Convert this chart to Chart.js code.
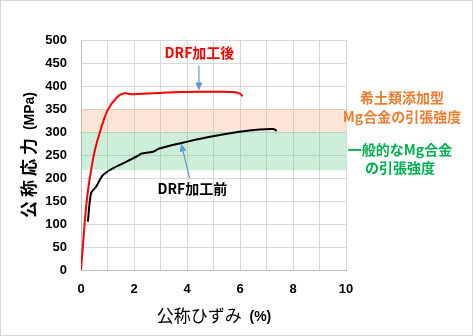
<!DOCTYPE html>
<html lang="ja">
<head>
    <meta charset="UTF-8">
    <title>公称応力-公称ひずみ曲線</title>
    <style>
        body { margin: 0; background: #fff; }
        #stressChart { display: block; }
    </style>
</head>
<body>
    <canvas id="stressChart" width="473" height="336"></canvas>

    <script src="https://cdn.jsdelivr.net/npm/chart.js"></script>
    <script>
        // DRF加工後 (strain %, stress MPa)
        const afterStrain = [0, 0.22, 0.47, 0.70, 1.01, 1.39, 1.64, 1.9, 2.08, 2.96, 3.8, 4.47, 5.2, 5.73, 5.98, 6.1];
        const afterStress = [0, 152, 246, 297, 348, 377, 384, 382, 382.5, 385, 387, 387.5, 387.5, 387, 384, 378];

        // DRF加工前
        const beforeStrain = [0.26, 0.38, 0.57, 0.82, 1.2, 1.7, 2.2, 2.27, 2.71, 2.96, 3.72, 4.72, 5.98, 6.74, 7.24, 7.39];
        const beforeStress = [105, 167, 181, 206, 221, 235, 250, 253, 257, 264, 275, 288, 300.5, 305.5, 306.5, 303];

        // 引張強度の範囲 [下限, 上限]
        const rareEarthBand = [300, 350];
        const commonBand = [217, 300];
        const bandStrain = [0, 10];

        const xTicks = [0, 2, 4, 6, 8, 10];

        const toPoints = (xs, ys) => xs.map((x, i) => ({ x: x, y: ys[i] }));
        const bandLine = (band) => bandStrain.map(x => ({ x: x, y: band[1] }));

        const labelFont = '"Noto Sans CJK JP", "Liberation Sans", sans-serif';
        const latinBold = 'bold 14px "Liberation Sans", sans-serif';

        // text, arrows and the outer frame
        const decorations = {
            id: 'decorations',
            afterDatasetsDraw(chart) {
                const ctx = chart.ctx;
                const xs = chart.scales.x, ys = chart.scales.y;
                const px = v => xs.getPixelForValue(v);
                const py = v => ys.getPixelForValue(v);

                ctx.save();

                // arrows pointing at the curves
                function arrow(x1, y1, x2, y2) {
                    const a = Math.atan2(y2 - y1, x2 - x1);
                    ctx.strokeStyle = '#5B9BD5';
                    ctx.fillStyle = '#5B9BD5';
                    ctx.lineWidth = 1.2;
                    ctx.beginPath();
                    ctx.moveTo(x1, y1);
                    ctx.lineTo(x2 - 6 * Math.cos(a), y2 - 6 * Math.sin(a));
                    ctx.stroke();
                    ctx.beginPath();
                    ctx.moveTo(x2, y2);
                    ctx.lineTo(x2 - 8 * Math.cos(a) + 3.5 * Math.sin(a), y2 - 8 * Math.sin(a) - 3.5 * Math.cos(a));
                    ctx.lineTo(x2 - 8 * Math.cos(a) - 3.5 * Math.sin(a), y2 - 8 * Math.sin(a) + 3.5 * Math.cos(a));
                    ctx.closePath();
                    ctx.fill();
                }
                arrow(px(4.45), py(444), px(4.45), py(390));
                arrow(px(4.1), py(200), px(3.78), py(275));

                ctx.textAlign = 'center';
                ctx.textBaseline = 'middle';

                ctx.font = 'bold 14px ' + labelFont;
                ctx.fillStyle = '#FF0000';
                ctx.fillText('DRF加工後', px(4.47), py(472));
                ctx.fillStyle = '#000000';
                ctx.fillText('DRF加工前', px(4.2), py(176));

                // band captions on the right
                ctx.font = 'bold 14px ' + labelFont;
                ctx.fillStyle = '#ED7D31';
                ctx.fillText('希土類添加型', 402, 98);
                ctx.fillText('Mg合金の引張強度', 402, 117);
                ctx.fillStyle = '#00B050';
                ctx.fillText('一般的なMg合金', 400, 150);
                ctx.fillText('の引張強度', 400, 168);

                // axis titles
                ctx.fillStyle = '#000000';
                ctx.textAlign = 'left';
                const xt1 = '公称ひずみ';
                ctx.font = '17px ' + labelFont;
                const w1 = ctx.measureText(xt1).width;
                ctx.font = latinBold;
                const w2 = ctx.measureText('  (%)').width;
                let sx = 214 - (w1 + w2) / 2;
                ctx.font = '17px ' + labelFont;
                ctx.fillText(xt1, sx, 316);
                ctx.font = latinBold;
                ctx.fillText('  (%)', sx + w1, 317);

                ctx.translate(29, 155);
                ctx.rotate(-Math.PI / 2);
                const yChars = ['公', '称', '応', '力'];
                const step = 21;
                ctx.font = latinBold;
                const yw2 = ctx.measureText(' (MPa)').width;
                sx = -(yChars.length * step + yw2) / 2;
                ctx.font = 'bold 17px ' + labelFont;
                yChars.forEach((c, i) => ctx.fillText(c, sx + i * step, 0));
                ctx.font = latinBold;
                ctx.fillText(' (MPa)', sx + yChars.length * step, 1);
                ctx.setTransform(1, 0, 0, 1, 0, 0);

                // outer frame
                ctx.strokeStyle = '#D9D9D9';
                ctx.lineWidth = 1;
                ctx.strokeRect(0.5, 0.5, chart.width - 1, chart.height - 1);

                ctx.restore();
            }
        };

        new Chart(document.getElementById('stressChart'), {
            type: 'scatter',
            data: {
                datasets: [
                    {
                        label: '希土類添加型Mg合金の引張強度',
                        data: bandLine(rareEarthBand),
                        showLine: true,
                        borderWidth: 0,
                        pointRadius: 0,
                        backgroundColor: 'rgba(244, 176, 132, 0.33)',
                        fill: { value: rareEarthBand[0] },
                        order: 4
                    },
                    {
                        label: '一般的なMg合金の引張強度',
                        data: bandLine(commonBand),
                        showLine: true,
                        borderWidth: 0,
                        pointRadius: 0,
                        backgroundColor: 'rgba(72, 196, 120, 0.27)',
                        fill: { value: commonBand[0] },
                        order: 3
                    },
                    {
                        label: 'DRF加工前',
                        data: toPoints(beforeStrain, beforeStress),
                        showLine: true,
                        borderColor: '#000000',
                        borderWidth: 2,
                        pointRadius: 0,
                        tension: 0.3,
                        order: 2
                    },
                    {
                        label: 'DRF加工後',
                        data: toPoints(afterStrain, afterStress),
                        showLine: true,
                        borderColor: '#FF0000',
                        borderWidth: 2,
                        pointRadius: 0,
                        tension: 0.3,
                        order: 1
                    }
                ]
            },
            options: {
                responsive: false,
                animation: false,
                layout: { padding: { left: 0, top: 40, right: 127, bottom: 0 } },
                plugins: {
                    legend: { display: false },
                    tooltip: { enabled: false }
                },
                scales: {
                    x: {
                        type: 'linear',
                        min: 0,
                        max: 10,
                        afterFit: s => { s.height = 66; },
                        afterBuildTicks: s => {
                            s.ticks = [0, 1, 2, 3, 4, 5, 6, 7, 8, 9, 10].map(v => ({ value: v }));
                        },
                        ticks: {
                            autoSkip: false,
                            maxRotation: 0,
                            padding: 12,
                            color: '#000000',
                            font: { family: '"Liberation Sans", sans-serif', size: 13, weight: 'bold' },
                            callback: v => xTicks.includes(v) ? String(v) : ''
                        },
                        grid: { color: '#D9D9D9', drawTicks: false },
                        border: { color: '#BFBFBF' }
                    },
                    y: {
                        min: 0,
                        max: 500,
                        afterFit: s => { s.width = 81; },
                        ticks: {
                            stepSize: 50,
                            padding: 14,
                            color: '#000000',
                            font: { family: '"Liberation Sans", sans-serif', size: 13, weight: 'bold' }
                        },
                        grid: { color: '#D9D9D9', drawTicks: false },
                        border: { color: '#BFBFBF' }
                    }
                }
            },
            plugins: [decorations]
        });
    </script>
</body>
</html>
